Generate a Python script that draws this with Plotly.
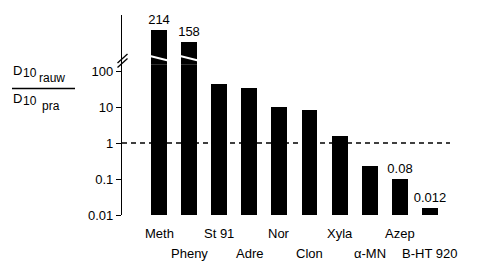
import plotly.graph_objects as go

# ---- data ----
categories = ["Meth", "Pheny", "St 91", "Adre", "Nor", "Clon", "Xyla", "α-MN", "Azep", "B-HT 920"]
ratios = [214, 158, 44, 34, 10, 8.3, 1.55, 0.23, 0.1, 0.015]
value_labels = ["214", "158", "", "", "", "", "", "", "0.08", "0.012"]
broken = [True, True, False, False, False, False, False, False, False, False]
tick_vals = [0.01, 0.1, 1, 10, 100]
tick_text = ["0.01", "0.1", "1", "10", "100"]
reference_level = 1

W, H = 479, 262
ML, MR, MT, MB = 122, 29, 15, 47
PW, PH = W - ML - MR, H - MT - MB
FONT = "Liberation Sans, Arial, sans-serif"

def px_x(p):
    return (p - ML) / PW

def px_y(p):
    return (H - MB - p) / PH

x_idx = list(range(len(categories)))
xr = [-1.23, len(categories) - 0.33]
lower_range = [-2, 2.19]
split = 0.754

fig = go.Figure()

# reference dashed line at ratio = 1
fig.add_trace(go.Scatter(x=xr, y=[reference_level, reference_level], mode="lines",
                         line=dict(color="black", width=1.5, dash="5px,4px"),
                         xaxis="x", yaxis="y", hoverinfo="skip", showlegend=False))

# lower (log) part: all bars
fig.add_trace(go.Bar(x=x_idx, y=ratios, width=0.53, marker_color="black",
                     marker_line_width=0,
                     text=[t if not b else "" for t, b in zip(value_labels, broken)],
                     textposition="outside", cliponaxis=False, constraintext="none",
                     textfont=dict(family=FONT, size=13, color="black"),
                     xaxis="x", yaxis="y", showlegend=False))

# upper (broken) part: only the broken bars
bx = [i for i, b in zip(x_idx, broken) if b]
by = [v for v, b in zip(ratios, broken) if b]
bt = [t for t, b in zip(value_labels, broken) if b]
fig.add_trace(go.Bar(x=bx, y=by, width=0.53, marker_color="black", marker_line_width=0,
                     text=bt, textposition="outside", cliponaxis=False, constraintext="none",
                     textfont=dict(family=FONT, size=13, color="black"),
                     xaxis="x", yaxis="y2", showlegend=False))

shapes = []
# white slanted break lines across broken bars
for i in bx:
    shapes.append(dict(type="line", xref="x", yref="paper", x0=i - 0.3, x1=i + 0.3,
                       y0=px_y(56), y1=px_y(60.5), line=dict(color="white", width=2)))
# axis break marks
for dy in (0, 4.5):
    shapes.append(dict(type="line", xref="paper", yref="paper",
                       x0=px_x(117.5), x1=px_x(127.5), y0=px_y(63 + dy), y1=px_y(54 + dy),
                       line=dict(color="black", width=1.3)))
# fraction bar of the y title
shapes.append(dict(type="line", xref="paper", yref="paper", x0=px_x(12), x1=px_x(75),
                   y0=px_y(88.5), y1=px_y(88.5), line=dict(color="black", width=1.3)))

annotations = []
# x category labels in two staggered rows
for i, c in enumerate(categories):
    ypix = 233 if i % 2 == 0 else 253
    annotations.append(dict(x=i, y=px_y(ypix), xref="x", yref="paper", text=c,
                            showarrow=False, xanchor="center", yanchor="middle",
                            font=dict(family=FONT, size=13, color="black")))

# y title: D10 rauw / D10 pra
def txt(t, xp, yp, size):
    annotations.append(dict(x=px_x(xp), y=px_y(yp), xref="paper", yref="paper", text=t,
                            showarrow=False, xanchor="left", yanchor="middle",
                            font=dict(family=FONT, size=size, color="black")))

txt("D", 11, 70, 13)
txt("10", 20.5, 73, 12)
txt("rauw", 37, 78, 12)
txt("D", 11, 98, 13)
txt("10", 20.5, 101, 12)
txt("pra", 40, 106, 12)

fig.update_layout(
    width=W, height=H,
    margin=dict(l=ML, r=MR, t=MT, b=MB, pad=0),
    paper_bgcolor="white", plot_bgcolor="white",
    bargap=0, showlegend=False,
    font=dict(family=FONT, size=13, color="black"),
    xaxis=dict(range=xr, showticklabels=False, showgrid=False, zeroline=False,
               showline=False, ticks="", fixedrange=True),
    yaxis=dict(type="log", range=lower_range, domain=[0, split],
               tickvals=tick_vals, ticktext=tick_text, ticks="outside", ticklen=5,
               tickwidth=1.3, tickcolor="black", showline=True, linecolor="black",
               linewidth=1.3, showgrid=False, zeroline=False,
               tickfont=dict(family=FONT, size=13, color="black")),
    yaxis2=dict(range=[54, 284], domain=[split, 1], anchor="x",
                showticklabels=False, ticks="", showline=True, linecolor="black",
                linewidth=1.3, showgrid=False, zeroline=False),
    shapes=shapes, annotations=annotations,
)

fig.write_html("out.html", config={"displayModeBar": False},
               post_script="document.body.style.margin='0';")
